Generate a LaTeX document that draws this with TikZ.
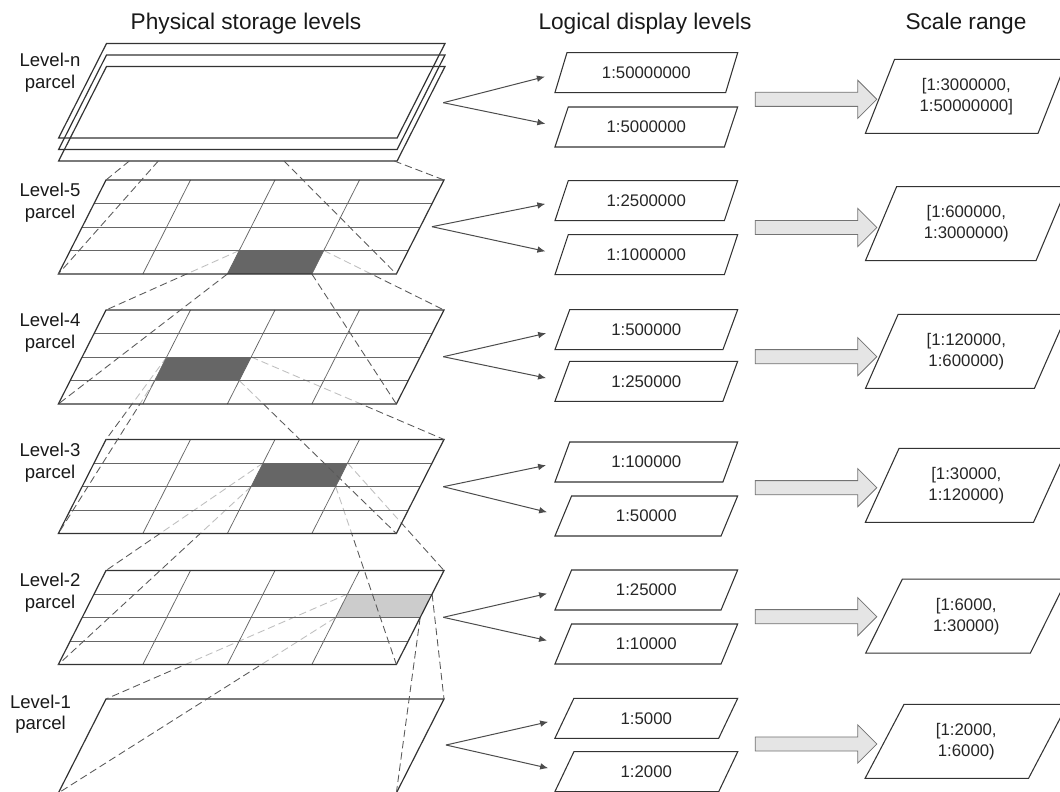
\documentclass[tikz,border=0pt]{standalone}
\usepackage{fontspec}
\setmainfont{Liberation Sans}
\usetikzlibrary{shapes.geometric,shapes.arrows,arrows.meta,calc,positioning}

\begin{document}
\begin{tikzpicture}[x=0.75pt,y=-0.75pt]

\useasboundingbox (0,0) rectangle (1060,792);

\tikzstyle{outline}=[draw=black!80,line width=0.9pt]
\tikzstyle{gridline}=[draw=black!60,line width=0.55pt]
\tikzstyle{darkdash}=[draw=black!65,line width=0.65pt,dash pattern=on 5.5pt off 3pt]
\tikzstyle{lightdash}=[draw=black!25,line width=0.65pt,dash pattern=on 5.5pt off 3pt]
\tikzstyle{fanarrow}=[draw=black!70,line width=0.75pt,-{Latex[length=6pt,width=5pt]},shorten >=12pt]
\tikzstyle{heading}=[font=\fontsize{17}{20}\selectfont,text=black!90]
\tikzstyle{levellabel}=[align=center,font=\fontsize{13.9}{16.2}\selectfont,text=black!90]
\tikzstyle{scalebox}=[draw=black!80,line width=0.8pt,trapezium,trapezium left angle=60.4,trapezium right angle=119.6,trapezium stretches=true,minimum width=137.5pt,minimum height=30pt,inner sep=0pt,font=\fontsize{12.6}{15}\selectfont,text=black!85]
\tikzstyle{rangebox}=[draw=black!80,line width=0.8pt,trapezium,trapezium left angle=62.6,trapezium right angle=117.4,trapezium stretches=true,minimum width=152pt,minimum height=55.5pt,inner sep=0pt,align=center,font=\fontsize{12.6}{15.75}\selectfont,text=black!85]
\tikzstyle{bigarrow}=[single arrow,draw=black!55,fill=black!10,line width=0.6pt,minimum height=91.2pt,minimum width=28pt,single arrow head extend=9pt,inner xsep=0pt,inner ysep=5pt]

% Column headings
\node[heading] (h1) at (246,24) {Physical storage levels};
\node[heading] (h2) at (645,24) {Logical display levels};
\node[heading] (h3) at (966,24) {Scale range};

% Level-1 parcel, no grid
\begin{scope}[shift={(106,699)},xslant=0.507]
  \coordinate (lv1-nw) at (0,0);
  \coordinate (lv1-ne) at (338,0);
  \coordinate (lv1-sw) at (0,94);
  \coordinate (lv1-se) at (338,94);
\end{scope}
\draw[outline] (lv1-nw) -- (lv1-ne) -- (lv1-se) -- (lv1-sw) -- cycle;

% Gridded parcels, from bottom to top
\foreach \lv/\ytop/\cu/\cv/\tone in {2/570.5/3/1/black!20,3/439.5/2/1/black!60,4/310/1/2/black!60,5/180/2/3/black!60}{
  \pgfmathtruncatemacro\lvbelow{\lv-1}
  \begin{scope}[shift={(106,\ytop)},xslant=0.507]
    \coordinate (lv\lv-nw) at (0,0);
    \coordinate (lv\lv-ne) at (338,0);
    \coordinate (lv\lv-sw) at (0,94);
    \coordinate (lv\lv-se) at (338,94);
    \coordinate (cell\lv-nw) at ({84.5*\cu},{23.5*\cv});
    \coordinate (cell\lv-ne) at ({84.5*\cu+84.5},{23.5*\cv});
    \coordinate (cell\lv-sw) at ({84.5*\cu},{23.5*\cv+23.5});
    \coordinate (cell\lv-se) at ({84.5*\cu+84.5},{23.5*\cv+23.5});
  \end{scope}
  % edges down to the level below
  \foreach \corner in {nw,ne,sw,se}
    \draw[darkdash] (cell\lv-\corner) -- (lv\lvbelow-\corner);
  \fill[white] (lv\lv-nw) -- (lv\lv-ne) -- (lv\lv-se) -- (lv\lv-sw) -- cycle;
  \fill[\tone] (cell\lv-nw) -- (cell\lv-ne) -- (cell\lv-se) -- (cell\lv-sw) -- cycle;
  % hidden part of the edges
  \begin{scope}
    \clip (lv\lv-nw) -- (lv\lv-ne) -- (lv\lv-se) -- (lv\lv-sw) -- cycle;
    \foreach \corner in {nw,ne,sw,se}
      \draw[lightdash] (cell\lv-\corner) -- (lv\lvbelow-\corner);
  \end{scope}
  \foreach \t in {0.25,0.5,0.75}{
    \draw[gridline] ($(lv\lv-nw)!\t!(lv\lv-ne)$) -- ($(lv\lv-sw)!\t!(lv\lv-se)$);
    \draw[gridline] ($(lv\lv-nw)!\t!(lv\lv-sw)$) -- ($(lv\lv-ne)!\t!(lv\lv-se)$);
  }
  \draw[outline] (lv\lv-nw) -- (lv\lv-ne) -- (lv\lv-se) -- (lv\lv-sw) -- cycle;
}

% Level-n parcel, three stacked sheets
\foreach \ytop [count=\k] in {43.5,55,66.5}{
  \begin{scope}[shift={(106.5,\ytop)},xslant=0.507]
    \coordinate (ln\k-nw) at (0,0);
    \coordinate (ln\k-ne) at (338.5,0);
    \coordinate (ln\k-sw) at (0,94.5);
    \coordinate (ln\k-se) at (338.5,94.5);
  \end{scope}
  \draw[outline] (ln\k-nw) -- (ln\k-ne) -- (ln\k-se) -- (ln\k-sw) -- cycle;
}

% edges from level-n down to level-5
\coordinate (ln-a) at (129.3,161);
\coordinate (ln-b) at (158.3,161);
\coordinate (ln-c) at (284,161);
\coordinate (ln-d) at (394.3,161);
\draw[darkdash] (ln-a) -- (lv5-nw)
(ln-b) -- (lv5-sw)
(ln-c) -- (lv5-se)
(ln-d) -- (lv5-ne);

% Level labels
\node[levellabel] (labn) at (50,73) {Level-n\\parcel};
\node[levellabel] (lab5) at (50,202.5) {Level-5\\parcel};
\node[levellabel] (lab4) at (50,332.5) {Level-4\\parcel};
\node[levellabel] (lab3) at (50,462.5) {Level-3\\parcel};
\node[levellabel] (lab2) at (50,593) {Level-2\\parcel};
\node[levellabel] (lab1) at (40.5,714) {Level-1\\parcel};

% Logical display levels
\foreach \txt/\y [count=\idx] in {1:50000000/72.7,1:5000000/127,1:2500000/200.7,1:1000000/254.7,1:500000/329.7,1:250000/381.3,1:100000/462,1:50000/516,1:25000/590,1:10000/644,1:5000/718.3,1:2000/771.7}
  \node[scalebox] (d\idx) at (646.3,\y) {\txt};

% Arrow sources beside the parcels
\foreach \x/\y [count=\idx] in {443.3/102.7,432/226.7,443.3/356.7,443.3/486.7,443.3/617.3,446/745}
  \coordinate (s\idx) at (\x,\y);

\foreach \i in {1,...,6}{
  \pgfmathtruncatemacro\dtop{2*\i-1}
  \pgfmathtruncatemacro\dbot{2*\i}
  \draw[fanarrow] (s\i) -- (d\dtop.left side);
  \draw[fanarrow] (s\i) -- (d\dbot.left side);
}

% Scale ranges
\foreach \txt/\y [count=\idx] in {{[1:3000000,\\1:50000000]}/96.3,{[1:600000,\\1:3000000)}/223.7,{[1:120000,\\1:600000)}/351.3,{[1:30000,\\1:120000)}/485.3,{[1:6000,\\1:30000)}/616.2,{[1:2000,\\1:6000)}/741.3}
  \node[rangebox] (r\idx) at (966.3,\y) {\txt};

\foreach \y [count=\idx] in {99.3,227.5,356.7,487.7,616.7,744}
  \node[bigarrow] (a\idx) at (812.5,\y) {};

\end{tikzpicture}
\end{document}
